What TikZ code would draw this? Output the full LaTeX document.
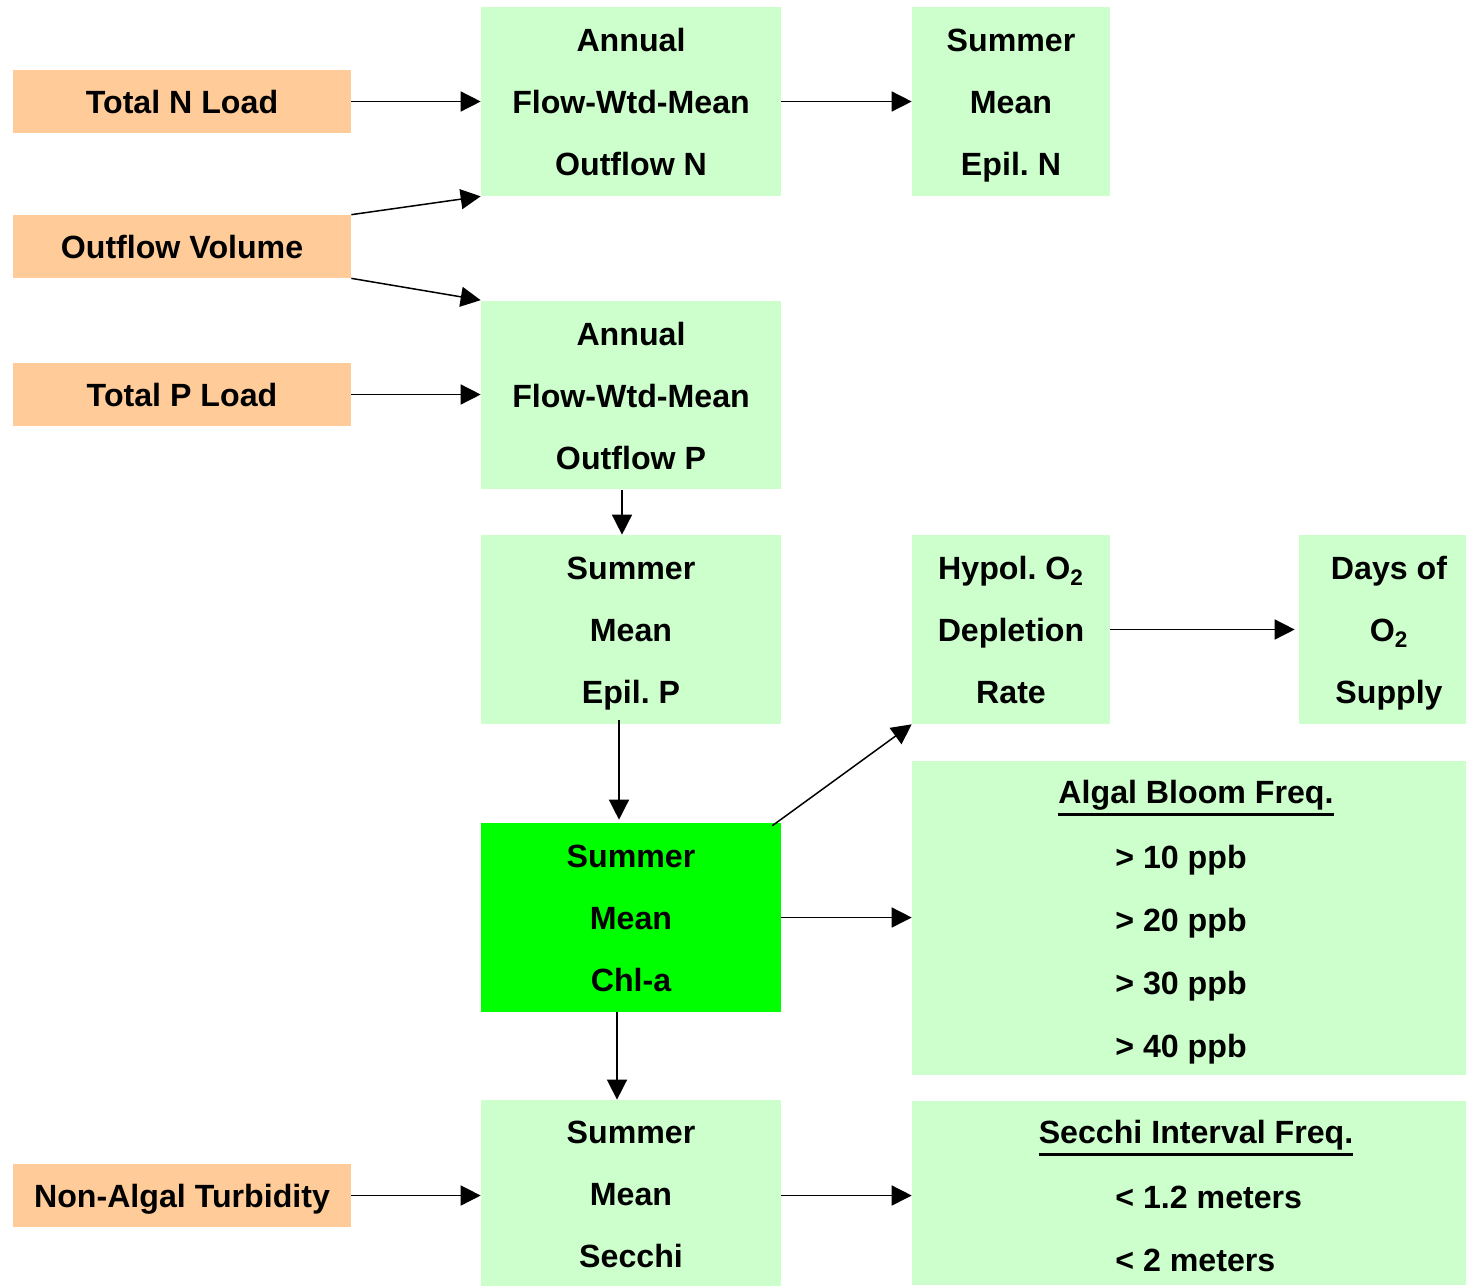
\documentclass[tikz,border=0pt]{standalone}
\usepackage{fontspec}
\setmainfont{Liberation Sans}
\usetikzlibrary{arrows.meta,positioning}

\definecolor{loadorange}{HTML}{FFCC99}
\definecolor{palegreen}{HTML}{CCFFCC}
\definecolor{chlgreen}{HTML}{00FF00}

% underlined heading
\newcommand{\headline}[1]{\vtop{\hbox{#1}\kern1.6pt\hrule height 2.1pt}}

\tikzset{
  load/.style={fill=loadorange,minimum width=6.76cm,minimum height=1.26cm,inner sep=0pt,
    text height=13.1pt,text depth=0pt},
  prop/.style={fill=palegreen,minimum width=6cm,minimum height=3.78cm,inner sep=0pt,align=center,
    execute at end node=\strut},
  freqlist/.style={anchor=west,align=left,inner sep=0pt,font=\fontsize{18.3}{35.9}\selectfont\bfseries\frenchspacing,
    execute at end node=\strut},
  flow/.style={-{Triangle[length=0.4cm,width=0.4cm]},line width=0.03cm}
}

\begin{document}
\begin{tikzpicture}[x=0.02cm,y=-0.02cm,font=\fontsize{18.3}{35.3}\selectfont\bfseries\frenchspacing]
\useasboundingbox (0,0) rectangle (1466,1285);

% loads
\node[load] (totN) at (182,101.5) {Total N Load};
\node[load] (outV) at (182,246.5) {Outflow Volume};
\node[load] (totP) at (182,394.5) {Total P Load};
\node[load] (turb) at (182,1195.5) {Non-Algal Turbidity};

% model boxes
\node[prop] (annN) at (631,101.5) {\strut Annual\\Flow-Wtd-Mean\\Outflow N};
\node[prop,minimum width=3.96cm] (epiN) at (1011,101.5) {\strut Summer\\Mean\\Epil. N};
\node[prop] (annP) at (631,395) {\strut Annual\\Flow-Wtd-Mean\\Outflow P};
\node[prop] (epiP) at (631,629.5) {\strut Summer\\Mean\\Epil. P};
\node[prop,minimum width=3.96cm] (hypO) at (1011,629.5) {\strut Hypol. O\textsubscript{2}\\Depletion\\Rate};
\node[prop,minimum width=3.34cm] (dayO) at (1382.5,629.5) {\strut\hspace*{0.26cm}Days of\\\hspace*{0.26cm}O\textsubscript{2}\\\hspace*{0.26cm}Supply};
\node[prop,fill=chlgreen] (chla) at (631,917.5) {\strut Summer\\Mean\\Chl-a};
\node[prop,minimum height=3.68cm] (secchi) at (631,1193) {\strut Summer\\Mean\\Secchi};

% frequency boxes
\node[prop,minimum width=11.08cm,minimum height=6.28cm] (bloom) at (1189,918) {};
\node[anchor=base,inner sep=0pt] (bloomT) at (1196,803) {\headline{Algal Bloom Freq.}};
\node[freqlist] (bloomL) at (1115,950.5) {\strut > 10 ppb\\> 20 ppb\\> 30 ppb\\> 40 ppb};
\node[prop,minimum width=11.08cm,minimum height=3.68cm] (secI) at (1189,1193) {};
\node[anchor=base,inner sep=0pt] (secIT) at (1196,1143) {\headline{Secchi Interval Freq.}};
\node[freqlist] (secIL) at (1115,1227.5) {\strut < 1.2 meters\\< 2 meters};

% connectors
\draw[flow] (totN.east) -- (annN.west);
\draw[flow] (outV.north east) -- (annN.south west);
\draw[flow] (outV.south east) -- (annP.north west);
\draw[flow] (totP.east) -- (annP.west |- totP.east);
\draw[flow] (annN.east) -- (epiN.west);
\draw[flow] ([xshift=-0.18cm]annP.south) -- ([xshift=-0.18cm]epiP.north);
\draw[flow] ([xshift=-0.24cm,yshift=0.08cm]epiP.south) -- ([xshift=-0.24cm,yshift=0.06cm]chla.north);
\draw[flow] ([xshift=-0.18cm,yshift=-0.06cm]chla.north east) -- (hypO.south west);
\draw[flow] (hypO.east) -- ([xshift=-0.08cm]dayO.west);
\draw[flow] (chla.east) -- (bloom.west |- chla.east);
\draw[flow] ([xshift=-0.28cm]chla.south) -- ([xshift=-0.28cm]secchi.north);
\draw[flow] (turb.east) -- (secchi.west |- turb.east);
\draw[flow] (secchi.east |- turb.east) -- (secI.west |- turb.east);
\end{tikzpicture}
\end{document}
